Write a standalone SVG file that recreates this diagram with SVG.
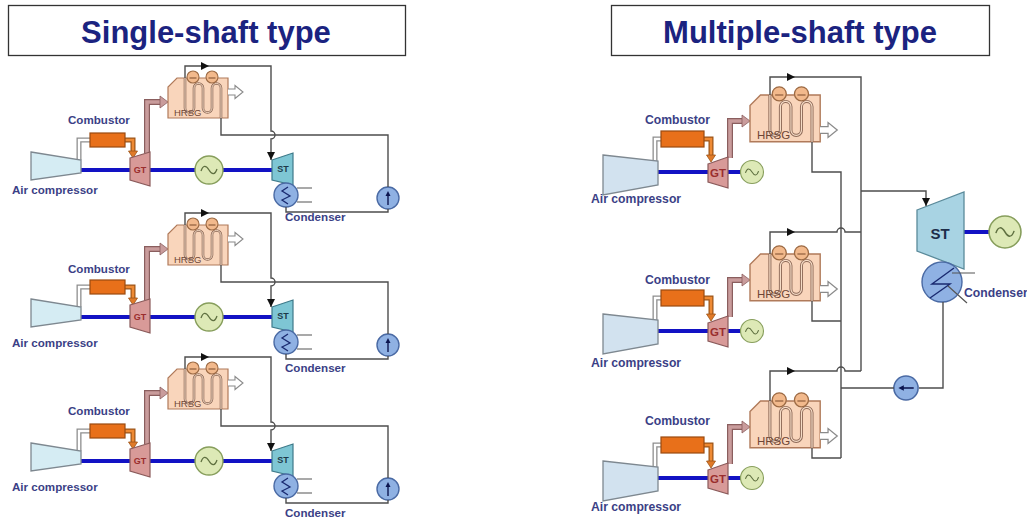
<svg xmlns="http://www.w3.org/2000/svg" width="1027" height="520" viewBox="0 0 1027 520">
<style>
  .title{font-family:"Liberation Sans",Arial,sans-serif;font-weight:bold;font-size:31px;fill:#1b2380;text-anchor:middle}
  .lbl{font-family:"Liberation Sans",Arial,sans-serif;font-weight:bold;font-size:11.6px;fill:#3b3f86}
  .lblR{font-family:"Liberation Sans",Arial,sans-serif;font-weight:bold;font-size:12.2px;fill:#3b3f86}
  .tag{font-family:"Liberation Sans",Arial,sans-serif;font-size:9.5px;fill:#6e4636}
  .tagR{font-family:"Liberation Sans",Arial,sans-serif;font-size:11.5px;fill:#6e4636}
  .gt{font-family:"Liberation Sans",Arial,sans-serif;font-weight:bold;font-size:9px;fill:#9a2e2e;text-anchor:middle}
  .gtR{font-family:"Liberation Sans",Arial,sans-serif;font-weight:bold;font-size:11.5px;fill:#9a2e2e;text-anchor:middle}
  .st{font-family:"Liberation Sans",Arial,sans-serif;font-weight:bold;font-size:9px;fill:#1d3a4a;text-anchor:middle}
  .stR{font-family:"Liberation Sans",Arial,sans-serif;font-weight:bold;font-size:15px;fill:#1d2d4a;text-anchor:middle}
  .box{fill:#fff;stroke:#333;stroke-width:1.3}
  .ln{fill:none;stroke:#4d4d4d;stroke-width:1.4}
  .shaft{fill:none;stroke:#1212c4;stroke-width:4}
  .airO{fill:none;stroke:#8e8e8e;stroke-width:5}
  .airI{fill:none;stroke:#fff;stroke-width:2.4}
  .fuelO{fill:none;stroke:#9c5418;stroke-width:5}
  .fuelI{fill:none;stroke:#ee8a34;stroke-width:2.6}
  .gasO{fill:none;stroke:#8a5e5e;stroke-width:6}
  .gasI{fill:none;stroke:#c99c9c;stroke-width:3.6}
  .comp{fill:#d5ecf3;stroke:#7e8890;stroke-width:1.3}
  .compR{fill:#d2e2ef;stroke:#7e8890;stroke-width:1.3}
  .comb{fill:#e8701a;stroke:#9a4a10;stroke-width:1.2}
  .gtb{fill:#d89a98;stroke:#8a5a5a;stroke-width:1.2}
  .stb{fill:#7ec6d4;stroke:#3e7a8a;stroke-width:1.2}
  .stbR{fill:#a8d3e3;stroke:#5a8a9a;stroke-width:1.3}
  .cool{fill:none;stroke:#555;stroke-width:1.2}
  .coilO{fill:none;stroke:#8e6a58;stroke-width:2.6}
  .coilI{fill:none;stroke:#f6dcc6;stroke-width:1}
</style>
<defs>
  <marker id="ah" viewBox="0 0 10 10" refX="10" refY="5" markerWidth="8" markerHeight="8" markerUnits="userSpaceOnUse" orient="auto">
    <path d="M0,0 L10,5 L0,10 Z" fill="#111"/>
  </marker>
  <!-- heat recovery steam generator, 60x40 body -->
  <g id="hrsg">
    <path d="M0,40 V9 L9,0 H60 V40 Z" fill="#f9d5bb" stroke="#b07a5a" stroke-width="1.2"/>
    <path class="coilO" d="M17,0 V30 a4.5,4.5 0 0 0 9,0 V10 a4.5,4.5 0 0 1 9,0 V30 a4.5,4.5 0 0 0 9,0 V10 a4.5,4.5 0 0 1 9,0 V40"/>
    <path class="coilI" d="M17,0 V30 a4.5,4.5 0 0 0 9,0 V10 a4.5,4.5 0 0 1 9,0 V30 a4.5,4.5 0 0 0 9,0 V10 a4.5,4.5 0 0 1 9,0 V40"/>
    <circle cx="25" cy="-1" r="6" fill="#f2b98c" stroke="#9c6a44" stroke-width="1.1"/>
    <circle cx="44" cy="-1" r="6" fill="#f2b98c" stroke="#9c6a44" stroke-width="1.1"/>
    <path d="M21.5,0 H28.5 M40.5,0 H47.5" stroke="#7a4a2a" stroke-width="1"/>
  </g>
  <!-- flue gas outlet arrow -->
  <path id="outArr" d="M0,-3 H7 V-6.5 L15,0 L7,6.5 V3 H0" fill="#fff" stroke="#8a8a8a" stroke-width="1.1"/>
  <g id="gen">
    <circle r="14" fill="#dde9b6" stroke="#879e5c" stroke-width="1.4"/>
    <path d="M-8,1 C-6,-5 -3,-5 0,0 S6,5 8,-1" fill="none" stroke="#5f7040" stroke-width="1.3"/>
  </g>
  <g id="pump">
    <circle r="11" fill="#8fb1e3" stroke="#4a6aa4" stroke-width="1.4"/>
    <path d="M0,7 V-4" stroke="#0c1650" stroke-width="1.4"/>
    <path d="M-2.5,-2 L0,-7 L2.5,-2 Z" fill="#0c1650"/>
  </g>
  <g id="condS">
    <circle r="12" fill="#8fb1e3" stroke="#4a6aa4" stroke-width="1.4"/>
    <path d="M2,-8 L-4,-4 L4,1 L-4,5 L2,9" fill="none" stroke="#1a2a70" stroke-width="1.3"/>
  </g>
  <!-- air, fuel and exhaust pipework around a gas turbine -->
  <g id="lpipes">
    <path class="airO" d="M79,160 V140 H90"/><path class="airI" d="M79,160 V140 H90"/>
    <path class="fuelO" d="M125,140 H133 V152"/><path class="fuelI" d="M125,140 H133 V152"/>
    <path d="M128.5,151 H137.5 L133,158 Z" fill="#e07a28" stroke="#9c5418" stroke-width="0.8"/>
    <path class="gasO" d="M147,153 V102 H161"/><path class="gasI" d="M147,153 V102 H161"/>
    <path d="M160,96 L168,102 L160,108 Z" fill="#c99c9c" stroke="#8a5e5e" stroke-width="0.8"/>
  </g>
  <g id="rpipes">
    <path class="airO" d="M655,161 V139 H661"/><path class="airI" d="M655,161 V139 H661"/>
    <path class="fuelO" d="M704,139 H711 V156"/><path class="fuelI" d="M704,139 H711 V156"/>
    <path d="M706.5,155 H715.5 L711,162 Z" fill="#e07a28" stroke="#9c5418" stroke-width="0.8"/>
    <path class="gasO" d="M730,158 V121 H742"/><path class="gasI" d="M730,158 V121 H742"/>
    <path d="M742,115 L750,121 L742,127 Z" fill="#c99c9c" stroke="#8a5e5e" stroke-width="0.8"/>
  </g>
</defs>

<rect width="1027" height="520" fill="#fff"/>

<!-- panel titles -->
<g id="title-single">
  <rect class="box" x="8.5" y="5.5" width="397" height="50"/>
  <text class="title" x="206" y="43">Single-shaft type</text>
</g>
<g id="title-multi">
  <rect class="box" x="611.5" y="5.5" width="378" height="50"/>
  <text class="title" x="800" y="43">Multiple-shaft type</text>
</g>

<!-- ===== single-shaft trains ===== -->
<g id="train-1">
  <use href="#lpipes"/>
  <path class="shaft" d="M81,170 H130 M150,170 H196 M223,170 H272"/>
  <g id="l1-compressor"><polygon class="comp" points="31,152 81,160 81,173 31,180"/><text class="lbl" x="12" y="194">Air compressor</text></g>
  <g id="l1-combustor"><rect class="comb" x="90" y="133" width="35" height="14"/><text class="lbl" x="68" y="124">Combustor</text></g>
  <g id="l1-gt"><polygon class="gtb" points="130,158 150,152 150,186 130,180"/><text class="gt" x="140" y="173">GT</text></g>
  <g id="l1-gen"><use href="#gen" x="209" y="170"/></g>
  <g id="l1-hrsg"><use href="#hrsg" transform="translate(168,78)"/><use href="#outArr" x="228" y="92"/><text class="tag" x="174" y="116">HRSG</text></g>
  <g id="l1-st"><polygon class="stb" points="272,160 293,153 293,185 272,180"/><text class="st" x="283" y="172">ST</text></g>
  <g id="l1-condenser"><use href="#condS" x="286" y="195"/><path class="cool" d="M297,188 H312 M297,202 H312"/><text class="lbl" x="285" y="221">Condenser</text></g>
  <g id="l1-pump"><use href="#pump" x="388" y="198"/></g>
</g>
<g id="train-2" transform="translate(0,147)">
  <use href="#lpipes"/>
  <path class="shaft" d="M81,170 H130 M150,170 H196 M223,170 H272"/>
  <g id="l2-compressor"><polygon class="comp" points="31,152 81,160 81,173 31,180"/><text class="lbl" x="12" y="200">Air compressor</text></g>
  <g id="l2-combustor"><rect class="comb" x="90" y="133" width="35" height="14"/><text class="lbl" x="68" y="126">Combustor</text></g>
  <g id="l2-gt"><polygon class="gtb" points="130,158 150,152 150,186 130,180"/><text class="gt" x="140" y="173">GT</text></g>
  <g id="l2-gen"><use href="#gen" x="209" y="170"/></g>
  <g id="l2-hrsg"><use href="#hrsg" transform="translate(168,78)"/><use href="#outArr" x="228" y="92"/><text class="tag" x="174" y="116">HRSG</text></g>
  <g id="l2-st"><polygon class="stb" points="272,160 293,153 293,185 272,180"/><text class="st" x="283" y="172">ST</text></g>
  <g id="l2-condenser"><use href="#condS" x="286" y="195"/><path class="cool" d="M297,188 H312 M297,202 H312"/><text class="lbl" x="285" y="225">Condenser</text></g>
  <g id="l2-pump"><use href="#pump" x="388" y="198"/></g>
</g>
<g id="train-3" transform="translate(0,291)">
  <use href="#lpipes"/>
  <path class="shaft" d="M81,170 H130 M150,170 H196 M223,170 H272"/>
  <g id="l3-compressor"><polygon class="comp" points="31,152 81,160 81,173 31,180"/><text class="lbl" x="12" y="200">Air compressor</text></g>
  <g id="l3-combustor"><rect class="comb" x="90" y="133" width="35" height="14"/><text class="lbl" x="68" y="124">Combustor</text></g>
  <g id="l3-gt"><polygon class="gtb" points="130,158 150,152 150,186 130,180"/><text class="gt" x="140" y="173">GT</text></g>
  <g id="l3-gen"><use href="#gen" x="209" y="170"/></g>
  <g id="l3-hrsg"><use href="#hrsg" transform="translate(168,78)"/><use href="#outArr" x="228" y="92"/><text class="tag" x="174" y="116">HRSG</text></g>
  <g id="l3-st"><polygon class="stb" points="272,160 293,153 293,185 272,180"/><text class="st" x="283" y="172">ST</text></g>
  <g id="l3-condenser"><use href="#condS" x="286" y="195"/><path class="cool" d="M297,188 H312 M297,202 H312"/><text class="lbl" x="285" y="226">Condenser</text></g>
  <g id="l3-pump"><use href="#pump" x="388" y="198"/></g>
</g>

<!-- ===== multi-shaft: three GT/HRSG trains ===== -->
<g id="gt-train-1">
  <use href="#rpipes"/>
  <path class="shaft" d="M658,172 H708 M728,172 H742"/>
  <g id="r1-compressor"><polygon class="compR" points="603,155 658,161 658,185 603,195"/><text class="lblR" x="591" y="203">Air compressor</text></g>
  <g id="r1-combustor"><rect class="comb" x="661" y="131" width="43" height="16"/><text class="lblR" x="645" y="124">Combustor</text></g>
  <g id="r1-gt"><polygon class="gtb" points="708,164 728,157 728,188 708,182"/><text class="gtR" x="718" y="177">GT</text></g>
  <g id="r1-gen"><use href="#gen" transform="translate(752,172) scale(0.82)"/></g>
  <g id="r1-hrsg"><use href="#hrsg" transform="translate(750,95) scale(1.17)"/><use href="#outArr" transform="translate(820,130) scale(1.15)"/><text class="tagR" x="757" y="139">HRSG</text></g>
</g>
<g id="gt-train-2" transform="translate(0,159)">
  <use href="#rpipes"/>
  <path class="shaft" d="M658,172 H708 M728,172 H742"/>
  <g id="r2-compressor"><polygon class="compR" points="603,155 658,161 658,185 603,195"/><text class="lblR" x="591" y="208">Air compressor</text></g>
  <g id="r2-combustor"><rect class="comb" x="661" y="131" width="43" height="16"/><text class="lblR" x="645" y="125">Combustor</text></g>
  <g id="r2-gt"><polygon class="gtb" points="708,164 728,157 728,188 708,182"/><text class="gtR" x="718" y="177">GT</text></g>
  <g id="r2-gen"><use href="#gen" transform="translate(752,172) scale(0.82)"/></g>
  <g id="r2-hrsg"><use href="#hrsg" transform="translate(750,95) scale(1.17)"/><use href="#outArr" transform="translate(820,130) scale(1.15)"/><text class="tagR" x="757" y="139">HRSG</text></g>
</g>
<g id="gt-train-3" transform="translate(0,306)">
  <use href="#rpipes"/>
  <path class="shaft" d="M658,172 H708 M728,172 H742"/>
  <g id="r3-compressor"><polygon class="compR" points="603,155 658,161 658,185 603,195"/><text class="lblR" x="591" y="205">Air compressor</text></g>
  <g id="r3-combustor"><rect class="comb" x="661" y="131" width="43" height="16"/><text class="lblR" x="645" y="119">Combustor</text></g>
  <g id="r3-gt"><polygon class="gtb" points="708,164 728,157 728,188 708,182"/><text class="gtR" x="718" y="177">GT</text></g>
  <g id="r3-gen"><use href="#gen" transform="translate(752,172) scale(0.82)"/></g>
  <g id="r3-hrsg"><use href="#hrsg" transform="translate(750,95) scale(1.17)"/><use href="#outArr" transform="translate(820,130) scale(1.15)"/><text class="tagR" x="757" y="139">HRSG</text></g>
</g>

<!-- shared steam turbine set -->
<g id="st-main">
  <path class="shaft" d="M964,232 H990"/>
  <polygon class="stbR" points="917,210 964,192 964,269 917,251"/>
  <text class="stR" x="940" y="239">ST</text>
</g>
<g id="st-gen"><use href="#gen" transform="translate(1005,232) scale(1.14)"/></g>
<g id="condenser-main">
  <circle cx="942" cy="282" r="20" fill="#8fb1e3" stroke="#4a6aa4" stroke-width="1.4"/>
  <path d="M954,268 L932,284 L950,284 L930,298" fill="none" stroke="#1a2a70" stroke-width="1.4"/>
  <path class="cool" d="M952,273 H975 M948,286 L967,303"/>
  <text class="lblR" x="964" y="297">Condenser</text>
</g>
<g id="pump-main"><use href="#pump" transform="translate(906,388) rotate(-90) scale(1.1)"/></g>

<!-- steam, feedwater and condensate lines -->
<g id="connectors">
  <g>
    <path class="ln" d="M185,78 V66 H209" marker-end="url(#ah)"/>
    <path class="ln" d="M209,66 H271 V131 a4,4 0 0 1 0,8 V160" marker-end="url(#ah)"/>
    <path class="ln" d="M221,118 V135 H388 V187"/>
    <path class="ln" d="M286,207 V212 H388 V209"/>
  </g>
  <g transform="translate(0,147)">
    <path class="ln" d="M185,78 V66 H209" marker-end="url(#ah)"/>
    <path class="ln" d="M209,66 H271 V131 a4,4 0 0 1 0,8 V160" marker-end="url(#ah)"/>
    <path class="ln" d="M221,118 V135 H388 V187"/>
    <path class="ln" d="M286,207 V212 H388 V209"/>
  </g>
  <g transform="translate(0,291)">
    <path class="ln" d="M185,78 V66 H209" marker-end="url(#ah)"/>
    <path class="ln" d="M209,66 H271 V131 a4,4 0 0 1 0,8 V160" marker-end="url(#ah)"/>
    <path class="ln" d="M221,118 V135 H388 V187"/>
    <path class="ln" d="M286,207 V212 H388 V209"/>
  </g>

  <!-- multi-shaft steam header -->
  <path class="ln" d="M770,95 V77 H795" marker-end="url(#ah)"/>
  <path class="ln" d="M795,77 H861 V371"/>
  <path class="ln" d="M770,254 V232 H795" marker-end="url(#ah)"/>
  <path class="ln" d="M795,232 H837 a4,4 0 0 1 8,0 H861"/>
  <path class="ln" d="M770,401 V371 H795" marker-end="url(#ah)"/>
  <path class="ln" d="M795,371 H837 a4,4 0 0 1 8,0 H861"/>
  <path class="ln" d="M861,191 H926 V206" marker-end="url(#ah)"/>
  <!-- feedwater header -->
  <path class="ln" d="M812,142 V172 H841 V458"/>
  <path class="ln" d="M812,301 V321 H841"/>
  <path class="ln" d="M812,448 V458 H841"/>
  <path class="ln" d="M841,388 H894"/>
  <path class="ln" d="M919,388 H943 V302"/>
</g>
</svg>
